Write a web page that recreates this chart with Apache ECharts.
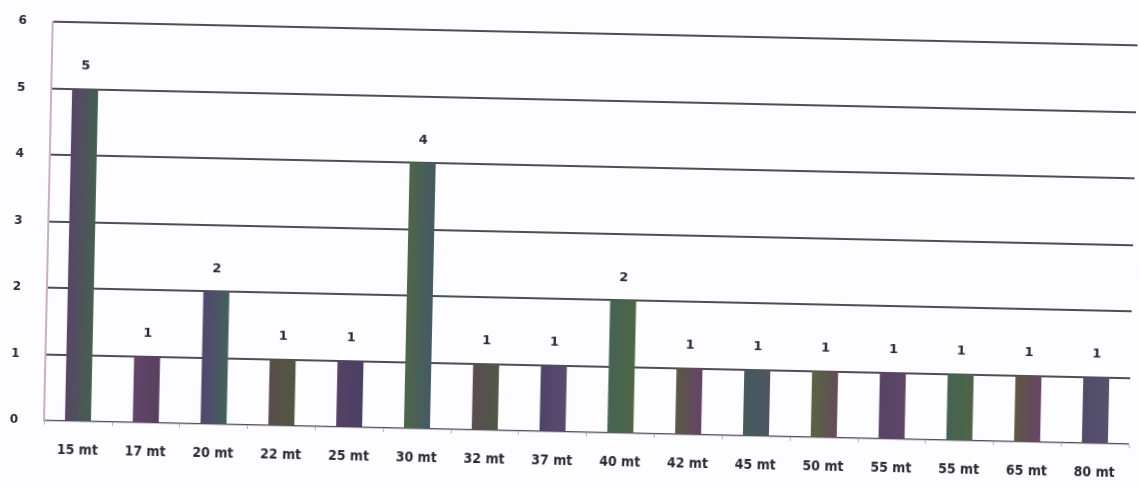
<!DOCTYPE html>
<html>
<head>
<meta charset="utf-8">
<script src="https://cdn.jsdelivr.net/npm/echarts@6/dist/echarts.min.js"></script>
<style>
  html, body { margin: 0; padding: 0; background: #fdfcfe; overflow: hidden; }
  /* the scan is a little tilted, so the whole chart is turned to match */
  #chart { width: 1139px; height: 488px; transform: rotate(1.25deg); transform-origin: 50% 50%; }
</style>
</head>
<body>
<div id="chart"></div>
<script>
// categories on the x axis
var categories = ["15 mt", "17 mt", "20 mt", "22 mt", "25 mt", "30 mt", "32 mt", "37 mt",
                  "40 mt", "42 mt", "45 mt", "50 mt", "55 mt", "55 mt", "65 mt", "80 mt"];
// bar values
var counts = [5, 1, 2, 1, 1, 4, 1, 1, 2, 1, 1, 1, 1, 1, 1, 1];
// y axis ticks
var yTicks = [0, 1, 2, 3, 4, 5, 6];

// two-tone bars (purple / green / slate) like the faded print
var tones = [
  ["#5a4468", "#44604f"], ["#63456a", "#584060"], ["#524670", "#44605c"], ["#5a4c4c", "#4f5840"],
  ["#574066", "#4a4062"], ["#4e6646", "#445a66"], ["#5c4c50", "#4f5846"], ["#4f4468", "#584c6e"],
  ["#446456", "#4f6644"], ["#5c5844", "#644468"], ["#445a5c", "#4f5562"], ["#586444", "#644c58"],
  ["#584468", "#5e4566"], ["#446450", "#4f6448"], ["#5c5844", "#684466"], ["#4f4c68", "#58506e"]
];

var chart = echarts.init(document.getElementById("chart"));

var barData = [];
for (var i = 0; i < counts.length; i++) {
  barData.push({
    value: counts[i],
    itemStyle: {
      color: new echarts.graphic.LinearGradient(0, 0, 1, 0, [
        { offset: 0, color: tones[i][0] },
        { offset: 1, color: tones[i][1] }
      ])
    }
  });
}

var option = {
  animation: false,
  backgroundColor: "#fdfcfe",
  grid: { left: 48, right: 6, top: 33, bottom: 56 },
  xAxis: {
    type: "category",
    data: categories,
    axisLine: { show: true, lineStyle: { color: "#c9c2d2", width: 1 } },
    axisTick: { show: true, length: 4, lineStyle: { color: "#b8b0c4" } },
    axisLabel: {
      margin: 22,
      color: "#2a2a30",
      fontSize: 14,
      fontWeight: "bold",
      fontFamily: "Liberation Sans Narrow, DejaVu Sans Condensed, sans-serif"
    }
  },
  yAxis: {
    type: "value",
    min: yTicks[0],
    max: yTicks[yTicks.length - 1],
    interval: 1,
    axisLine: { show: true, lineStyle: { color: "#c8b0c0", width: 2 } },
    axisTick: { show: false },
    axisLabel: {
      margin: 26,
      color: "#2a2a30",
      fontSize: 12,
      fontWeight: "bold",
      fontFamily: "DejaVu Sans, sans-serif"
    },
    splitLine: { lineStyle: { color: "#4e4e54", width: 2 } }
  },
  series: [
    {
      type: "bar",
      data: barData,
      barWidth: 26,
      label: {
        show: true,
        position: "top",
        distance: 16,
        color: "#2a2a30",
        fontSize: 13,
        fontWeight: "bold",
        fontFamily: "DejaVu Sans, sans-serif"
      }
    }
  ]
};

chart.setOption(option);
window.addEventListener("resize", chart.resize);
</script>
</body>
</html>
